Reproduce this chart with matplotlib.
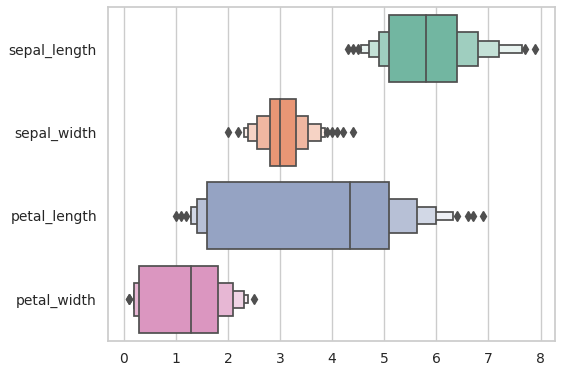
import matplotlib
matplotlib.use("Agg")
import matplotlib.pyplot as plt
import matplotlib.colors as mcolors
import numpy as np
import seaborn as sns

# letter values (inner box first)
categories = ["sepal_length", "sepal_width", "petal_length", "petal_width"]
medians = [5.8, 3.0, 4.35, 1.3]
lower_lv = [
    [5.1, 4.9, 4.7, 4.56],
    [2.8, 2.56, 2.38, 2.31],
    [1.6, 1.4, 1.3, 1.3],
    [0.3, 0.2, 0.2, 0.2],
]
upper_lv = [
    [6.4, 6.8, 7.2, 7.64],
    [3.3, 3.53, 3.79, 3.87],
    [5.1, 5.63, 6.0, 6.32],
    [1.8, 2.1, 2.31, 2.38],
]
outliers = [
    [4.3, 4.4, 4.5, 7.7, 7.9],
    [2.0, 2.2, 3.9, 4.0, 4.1, 4.2, 4.4],
    [1.0, 1.1, 1.2, 6.4, 6.6, 6.7, 6.9],
    [0.1, 0.1, 2.5],
]

sns.set_theme(style="whitegrid")
base_colors = sns.color_palette("Set2", 4, desat=0.75)
edge = "#4f4f4f"
heights = [0.8, 0.4, 0.2, 0.1]
lighten = [0.0, 0.32, 0.58, 0.84]

fig, ax = plt.subplots(figsize=(5.63, 3.76), dpi=100)
fig.subplots_adjust(left=0.192, right=0.986, top=0.981, bottom=0.093)

for i, cat in enumerate(categories):
    c = np.array(mcolors.to_rgb(base_colors[i]))
    # outer boxes first so inner ones sit on top
    for lvl in range(len(heights) - 1, -1, -1):
        col = c + (1 - c) * lighten[lvl]
        lo, hi = lower_lv[i][lvl], upper_lv[i][lvl]
        ax.barh(i, hi - lo, left=lo, height=heights[lvl], color=col,
                edgecolor=edge, linewidth=1.25, zorder=2 + (4 - lvl))
    ax.plot([medians[i]] * 2, [i - heights[0] / 2, i + heights[0] / 2],
            color=edge, lw=1.25, zorder=8)
    ax.plot(outliers[i], [i] * len(outliers[i]), ls="none", marker="d",
            ms=5.5, color=edge, zorder=9)

ax.set_yticks(range(len(categories)))
ax.set_yticklabels(categories)
ax.set_ylim(3.5, -0.5)
ax.set_xlim(-0.3, 8.28)
ax.set_xticks(range(9))
ax.tick_params(axis="both", labelsize=10, length=0)
ax.tick_params(axis="y", pad=8)
ax.tick_params(axis="x", pad=8)
ax.grid(axis="y", visible=False)
ax.grid(axis="x", color="#cccccc", lw=1)
ax.set_axisbelow(True)
for s in ax.spines.values():
    s.set_color("#cccccc")

fig.savefig("out.png", dpi=100)
